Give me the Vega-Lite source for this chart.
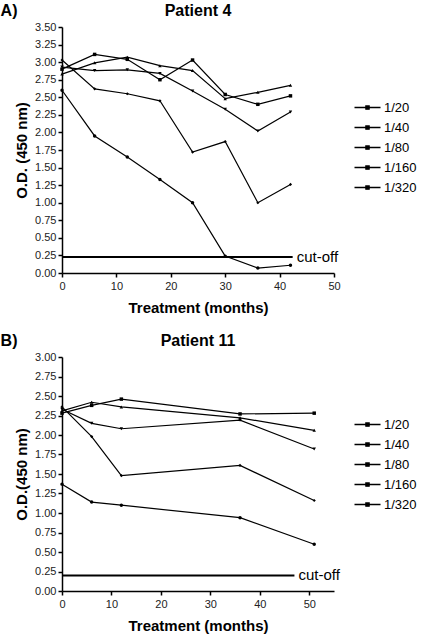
{
  "$schema": "https://vega.github.io/schema/vega-lite/v6.json",
  "padding": {"left": 0, "top": 3, "right": 0, "bottom": 2},
  "background": "white",
  "spacing": 18,
  "resolve": {"scale": {"color": "independent"}},
  "datasets": {
    "p4": [
      {"t": 0, "od": 2.90, "dil": "1/20"}, {"t": 6, "od": 3.11, "dil": "1/20"}, {"t": 12, "od": 3.04, "dil": "1/20"}, {"t": 18, "od": 2.75, "dil": "1/20"}, {"t": 24, "od": 3.03, "dil": "1/20"}, {"t": 30, "od": 2.54, "dil": "1/20"}, {"t": 36, "od": 2.40, "dil": "1/20"}, {"t": 42, "od": 2.52, "dil": "1/20"},
      {"t": 0, "od": 2.83, "dil": "1/40"}, {"t": 6, "od": 2.99, "dil": "1/40"}, {"t": 12, "od": 3.07, "dil": "1/40"}, {"t": 18, "od": 2.95, "dil": "1/40"}, {"t": 24, "od": 2.88, "dil": "1/40"}, {"t": 30, "od": 2.48, "dil": "1/40"}, {"t": 36, "od": 2.57, "dil": "1/40"}, {"t": 42, "od": 2.67, "dil": "1/40"},
      {"t": 0, "od": 2.93, "dil": "1/80"}, {"t": 6, "od": 2.88, "dil": "1/80"}, {"t": 12, "od": 2.89, "dil": "1/80"}, {"t": 18, "od": 2.84, "dil": "1/80"}, {"t": 24, "od": 2.59, "dil": "1/80"}, {"t": 30, "od": 2.33, "dil": "1/80"}, {"t": 36, "od": 2.02, "dil": "1/80"}, {"t": 42, "od": 2.29, "dil": "1/80"},
      {"t": 0, "od": 3.03, "dil": "1/160"}, {"t": 6, "od": 2.62, "dil": "1/160"}, {"t": 12, "od": 2.55, "dil": "1/160"}, {"t": 18, "od": 2.45, "dil": "1/160"}, {"t": 24, "od": 1.72, "dil": "1/160"}, {"t": 30, "od": 1.87, "dil": "1/160"}, {"t": 36, "od": 1.00, "dil": "1/160"}, {"t": 42, "od": 1.26, "dil": "1/160"},
      {"t": 0, "od": 2.60, "dil": "1/320"}, {"t": 6, "od": 1.95, "dil": "1/320"}, {"t": 12, "od": 1.65, "dil": "1/320"}, {"t": 18, "od": 1.33, "dil": "1/320"}, {"t": 24, "od": 1.00, "dil": "1/320"}, {"t": 30, "od": 0.24, "dil": "1/320"}, {"t": 36, "od": 0.07, "dil": "1/320"}, {"t": 42, "od": 0.11, "dil": "1/320"}
    ],
    "p11": [
      {"t": 0, "od": 2.28, "dil": "1/20"}, {"t": 6, "od": 2.38, "dil": "1/20"}, {"t": 12, "od": 2.46, "dil": "1/20"}, {"t": 36, "od": 2.27, "dil": "1/20"}, {"t": 51, "od": 2.28, "dil": "1/20"},
      {"t": 0, "od": 2.31, "dil": "1/40"}, {"t": 6, "od": 2.42, "dil": "1/40"}, {"t": 12, "od": 2.36, "dil": "1/40"}, {"t": 36, "od": 2.22, "dil": "1/40"}, {"t": 51, "od": 2.06, "dil": "1/40"},
      {"t": 0, "od": 2.33, "dil": "1/80"}, {"t": 6, "od": 2.15, "dil": "1/80"}, {"t": 12, "od": 2.08, "dil": "1/80"}, {"t": 36, "od": 2.19, "dil": "1/80"}, {"t": 51, "od": 1.82, "dil": "1/80"},
      {"t": 0, "od": 2.36, "dil": "1/160"}, {"t": 6, "od": 1.98, "dil": "1/160"}, {"t": 12, "od": 1.48, "dil": "1/160"}, {"t": 36, "od": 1.61, "dil": "1/160"}, {"t": 51, "od": 1.16, "dil": "1/160"},
      {"t": 0, "od": 1.37, "dil": "1/320"}, {"t": 6, "od": 1.14, "dil": "1/320"}, {"t": 12, "od": 1.10, "dil": "1/320"}, {"t": 36, "od": 0.94, "dil": "1/320"}, {"t": 51, "od": 0.60, "dil": "1/320"}
    ],
    "cut4": [{"t": 0, "t2": 42.4, "od": 0.227}],
    "cut4lab": [{"t": 42.4, "od": 0.227, "label": "cut-off"}],
    "cut11": [{"t": 0, "t2": 47, "od": 0.2}],
    "cut11lab": [{"t": 47, "od": 0.2, "label": "cut-off"}]
  },
  "vconcat": [
    {
      "title": {"text": "A)", "anchor": "start", "frame": "bounds", "dy": 18, "dx": -14, "fontSize": 16},
      "vconcat": [
        {
          "title": "Patient 4",
          "width": 272,
          "height": 246,
          "encoding": {
            "x": {"field": "t", "type": "quantitative", "scale": {"domain": [0, 50], "nice": false}, "axis": {"values": [0, 10, 20, 30, 40, 50], "title": "Treatment (months)", "labelOverlap": false, "labelPadding": 3, "titlePadding": 9}},
            "y": {"field": "od", "type": "quantitative", "scale": {"domain": [0, 3.5], "nice": false}, "axis": {"values": [0, 0.25, 0.5, 0.75, 1, 1.25, 1.5, 1.75, 2, 2.25, 2.5, 2.75, 3, 3.25, 3.5], "format": ".2f", "title": "O.D. (450 nm)", "labelOverlap": false}}
          },
          "layer": [
            {
              "data": {"name": "p4"},
              "mark": {"type": "line", "strokeWidth": 1.2},
              "encoding": {
                "color": {"field": "dil", "type": "nominal", "scale": {"domain": ["1/20", "1/40", "1/80", "1/160", "1/320"], "range": ["#000", "#000", "#000", "#000", "#000"]},
                  "legend": {"orient": "none", "legendX": 298, "legendY": 73, "title": null, "symbolType": "M-2,0L2,0M-0.25,-0.25L0.25,-0.25L0.25,0.25L-0.25,0.25Z", "symbolSize": 169, "symbolStrokeWidth": 1.3, "symbolStrokeColor": "#000", "symbolFillColor": "#000", "labelFontSize": 13, "labelOffset": 9, "rowPadding": 5, "padding": 0, "labelColor": "#000"}}
              }
            },
            {"data": {"name": "p4"}, "transform": [{"filter": "datum.dil == '1/20'"}], "mark": {"type": "point", "filled": true, "size": 12, "shape": "square", "color": "#000", "opacity": 1}},
            {"data": {"name": "p4"}, "transform": [{"filter": "datum.dil == '1/40'"}], "mark": {"type": "point", "filled": true, "size": 12, "shape": "triangle-up", "color": "#000", "opacity": 1}},
            {"data": {"name": "p4"}, "transform": [{"filter": "datum.dil == '1/80'"}], "mark": {"type": "point", "filled": true, "size": 12, "shape": "triangle-down", "color": "#000", "opacity": 1}},
            {"data": {"name": "p4"}, "transform": [{"filter": "datum.dil == '1/160'"}], "mark": {"type": "point", "filled": true, "size": 10, "shape": "diamond", "color": "#000", "opacity": 1}},
            {"data": {"name": "p4"}, "transform": [{"filter": "datum.dil == '1/320'"}], "mark": {"type": "point", "filled": true, "size": 12, "shape": "circle", "color": "#000", "opacity": 1}},
            {"data": {"name": "cut4"}, "mark": {"type": "rule", "strokeWidth": 2, "color": "#000"}, "encoding": {"x2": {"field": "t2"}}},
            {"data": {"name": "cut4lab"}, "mark": {"type": "text", "align": "left", "dx": 4, "fontSize": 15, "font": "Liberation Sans", "color": "#000"}, "encoding": {"text": {"field": "label"}}}
          ]
        }
      ]
    },
    {
      "title": {"text": "B)", "anchor": "start", "frame": "bounds", "dy": 18, "dx": -14, "fontSize": 16},
      "vconcat": [
        {
          "title": "Patient 11",
          "width": 272,
          "height": 234,
          "encoding": {
            "x": {"field": "t", "type": "quantitative", "scale": {"domain": [0, 55], "nice": false}, "axis": {"values": [0, 10, 20, 30, 40, 50], "title": "Treatment (months)", "labelOverlap": false, "labelPadding": 3, "titlePadding": 9}},
            "y": {"field": "od", "type": "quantitative", "scale": {"domain": [0, 3], "nice": false}, "axis": {"values": [0, 0.25, 0.5, 0.75, 1, 1.25, 1.5, 1.75, 2, 2.25, 2.5, 2.75, 3], "format": ".2f", "title": "O.D.(450 nm)", "labelOverlap": false}}
          },
          "layer": [
            {
              "data": {"name": "p11"},
              "mark": {"type": "line", "strokeWidth": 1.2},
              "encoding": {
                "color": {"field": "dil", "type": "nominal", "scale": {"domain": ["1/20", "1/40", "1/80", "1/160", "1/320"], "range": ["#000", "#000", "#000", "#000", "#000"]},
                  "legend": {"orient": "none", "legendX": 298, "legendY": 60, "title": null, "symbolType": "M-2,0L2,0M-0.25,-0.25L0.25,-0.25L0.25,0.25L-0.25,0.25Z", "symbolSize": 169, "symbolStrokeWidth": 1.3, "symbolStrokeColor": "#000", "symbolFillColor": "#000", "labelFontSize": 13, "labelOffset": 9, "rowPadding": 5, "padding": 0, "labelColor": "#000"}}
              }
            },
            {"data": {"name": "p11"}, "transform": [{"filter": "datum.dil == '1/20'"}], "mark": {"type": "point", "filled": true, "size": 12, "shape": "square", "color": "#000", "opacity": 1}},
            {"data": {"name": "p11"}, "transform": [{"filter": "datum.dil == '1/40'"}], "mark": {"type": "point", "filled": true, "size": 12, "shape": "triangle-up", "color": "#000", "opacity": 1}},
            {"data": {"name": "p11"}, "transform": [{"filter": "datum.dil == '1/80'"}], "mark": {"type": "point", "filled": true, "size": 12, "shape": "triangle-down", "color": "#000", "opacity": 1}},
            {"data": {"name": "p11"}, "transform": [{"filter": "datum.dil == '1/160'"}], "mark": {"type": "point", "filled": true, "size": 10, "shape": "diamond", "color": "#000", "opacity": 1}},
            {"data": {"name": "p11"}, "transform": [{"filter": "datum.dil == '1/320'"}], "mark": {"type": "point", "filled": true, "size": 12, "shape": "circle", "color": "#000", "opacity": 1}},
            {"data": {"name": "cut11"}, "mark": {"type": "rule", "strokeWidth": 2, "color": "#000"}, "encoding": {"x2": {"field": "t2"}}},
            {"data": {"name": "cut11lab"}, "mark": {"type": "text", "align": "left", "dx": 4, "fontSize": 15, "font": "Liberation Sans", "color": "#000"}, "encoding": {"text": {"field": "label"}}}
          ]
        }
      ]
    }
  ],
  "config": {
    "font": "Liberation Sans",
    "view": {"stroke": null},
    "title": {"font": "Liberation Sans", "fontSize": 16, "fontWeight": "bold", "color": "#000", "offset": 2},
    "axis": {
      "grid": false,
      "domainColor": "#000",
      "domainWidth": 1.5,
      "tickColor": "#000",
      "tickWidth": 1.5,
      "tickSize": 4,
      "labelFont": "Liberation Sans",
      "labelFontSize": 11,
      "labelColor": "#222",
      "labelPadding": 2,
      "labelFlush": false,
      "titleFont": "Liberation Sans",
      "titleFontSize": 15,
      "titleFontWeight": "bold",
      "titleColor": "#000",
      "titlePadding": 5
    },
    "legend": {"labelFont": "Liberation Sans"}
  }
}
